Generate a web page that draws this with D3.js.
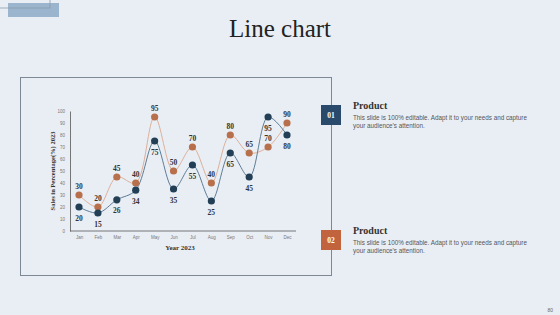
<!DOCTYPE html>
<html>
<head>
<meta charset="utf-8">
<script src="https://cdn.jsdelivr.net/npm/d3@7"></script>
<style>
  html, body { margin: 0; padding: 0; background: #e9eef5; }
  svg { display: block; }
</style>
</head>
<body>
<svg id="chart" width="560" height="315"></svg>
<script>
// chart values
const months = ["Jan", "Feb", "Mar", "Apr", "May", "Jun", "Jul", "Aug", "Sep", "Oct", "Nov", "Dec"];
const product1 = [20, 15, 26, 34, 75, 35, 55, 25, 65, 45, 95, 80];
const product2 = [30, 20, 45, 40, 95, 50, 70, 40, 80, 65, 70, 90];
const yTicks = [0, 10, 20, 30, 40, 50, 60, 70, 80, 90, 100];

const navy = "#223f56";
const rust = "#b86f4c";

const svg = d3.select("#chart");

// decorative corner boxes
svg.append("rect").attr("x", 8).attr("y", 3).attr("width", 51).attr("height", 14)
  .attr("fill", "#9ab5cd");
svg.append("rect").attr("x", -1).attr("y", -1).attr("width", 51).attr("height", 9)
  .attr("fill", "none").attr("stroke", "#8a9bab").attr("stroke-width", 0.8);

// title
svg.append("text").attr("x", 280).attr("y", 37).attr("text-anchor", "middle")
  .style("font-family", "Liberation Serif, serif").style("font-size", "25px")
  .attr("fill", "#222").text("Line chart");

// frame around chart
svg.append("rect").attr("x", 20.5).attr("y", 77.5).attr("width", 311).attr("height", 198)
  .attr("fill", "none").attr("stroke", "#7d8894").attr("stroke-width", 1);

// chart area
const plotL = 70, plotR = 296, plotT = 111, plotB = 231;
const x = d3.scalePoint().domain(months).range([79, 287]);
const y = d3.scaleLinear().domain([0, 100]).range([plotB, plotT]);

const g = svg.append("g");

// axes
const yAxis = g.append("g").attr("transform", `translate(${plotL},0)`)
  .call(d3.axisLeft(y).tickValues(yTicks).tickSize(0).tickPadding(5));
yAxis.select(".domain").attr("stroke", "#555").attr("stroke-width", 0.8);
yAxis.selectAll("text").style("font-family", "Liberation Sans, sans-serif")
  .style("font-size", "4.5px").attr("fill", "#777");

const xAxis = g.append("g").attr("transform", `translate(0,${plotB})`)
  .call(d3.axisBottom(x).tickSize(0).tickPadding(5));
xAxis.select(".domain").attr("d", `M${plotL},0H${plotR}`).attr("stroke", "#555").attr("stroke-width", 0.8);
xAxis.selectAll("text").style("font-family", "Liberation Sans, sans-serif")
  .style("font-size", "4.5px").attr("fill", "#777");

// axis titles
g.append("text").attr("x", 180).attr("y", 250).attr("text-anchor", "middle")
  .style("font-family", "Liberation Serif, serif").style("font-size", "7px").style("font-weight", "bold")
  .attr("fill", "#333").text("Year 2023");
g.append("text").attr("transform", "translate(55,171) rotate(-90)").attr("text-anchor", "middle")
  .style("font-family", "Liberation Serif, serif").style("font-size", "6.5px").style("font-weight", "bold")
  .attr("fill", "#333").text("Sales in Percentage(%) 2023");

// lines
const line = d3.line().x((d, i) => x(months[i])).y(d => y(d)).curve(d3.curveCatmullRom.alpha(0.5));

g.append("path").datum(product2).attr("d", line).attr("fill", "none")
  .attr("stroke", "#dba88e").attr("stroke-width", 0.9);
g.append("path").datum(product1).attr("d", line).attr("fill", "none")
  .attr("stroke", "#4d6f8a").attr("stroke-width", 0.9);

// points
function drawPoints(data, color) {
  g.selectAll(null).data(data).enter().append("circle")
    .attr("cx", (d, i) => x(months[i])).attr("cy", d => y(d))
    .attr("r", 3.6).attr("fill", color);
}
drawPoints(product2, rust);
drawPoints(product1, navy);

// value labels
function drawLabels(data, dy) {
  g.selectAll(null).data(data).enter().append("text")
    .attr("x", (d, i) => x(months[i])).attr("y", d => y(d) + dy)
    .attr("text-anchor", "middle")
    .style("font-family", "Liberation Serif, serif").style("font-size", "7.5px").style("font-weight", "bold")
    .attr("fill", "#333").text(d => d);
}
drawLabels(product2, -6);
drawLabels(product1, 13.5);

// right side items
svg.append("line").attr("x1", 331.5).attr("x2", 331.5).attr("y1", 77).attr("y2", 276)
  .attr("stroke", "#7d8894");

const items = [
  { num: "01", color: "#294a6a", y: 105 },
  { num: "02", color: "#c1633d", y: 230 }
];
items.forEach(it => {
  svg.append("rect").attr("x", 321).attr("y", it.y).attr("width", 20).attr("height", 20).attr("fill", it.color);
  svg.append("text").attr("x", 331).attr("y", it.y + 13).attr("text-anchor", "middle")
    .style("font-family", "Liberation Serif, serif").style("font-size", "7.5px").style("font-weight", "bold")
    .attr("fill", "#fff").text(it.num);
  svg.append("text").attr("x", 353).attr("y", it.y + 4)
    .style("font-family", "Liberation Serif, serif").style("font-size", "10px").style("font-weight", "bold")
    .attr("fill", "#333").text("Product");
  svg.append("text").attr("x", 353).attr("y", it.y + 15)
    .style("font-family", "Liberation Sans, sans-serif").style("font-size", "6.3px")
    .attr("fill", "#555").text("This slide is 100% editable. Adapt it to your needs and capture");
  svg.append("text").attr("x", 353).attr("y", it.y + 23)
    .style("font-family", "Liberation Sans, sans-serif").style("font-size", "6.3px")
    .attr("fill", "#555").text("your audience\u2019s attention.");
});

// page number
svg.append("text").attr("x", 553).attr("y", 312).attr("text-anchor", "end")
  .style("font-family", "Liberation Sans, sans-serif").style("font-size", "5px")
  .attr("fill", "#666").text("80");
</script>
</body>
</html>
